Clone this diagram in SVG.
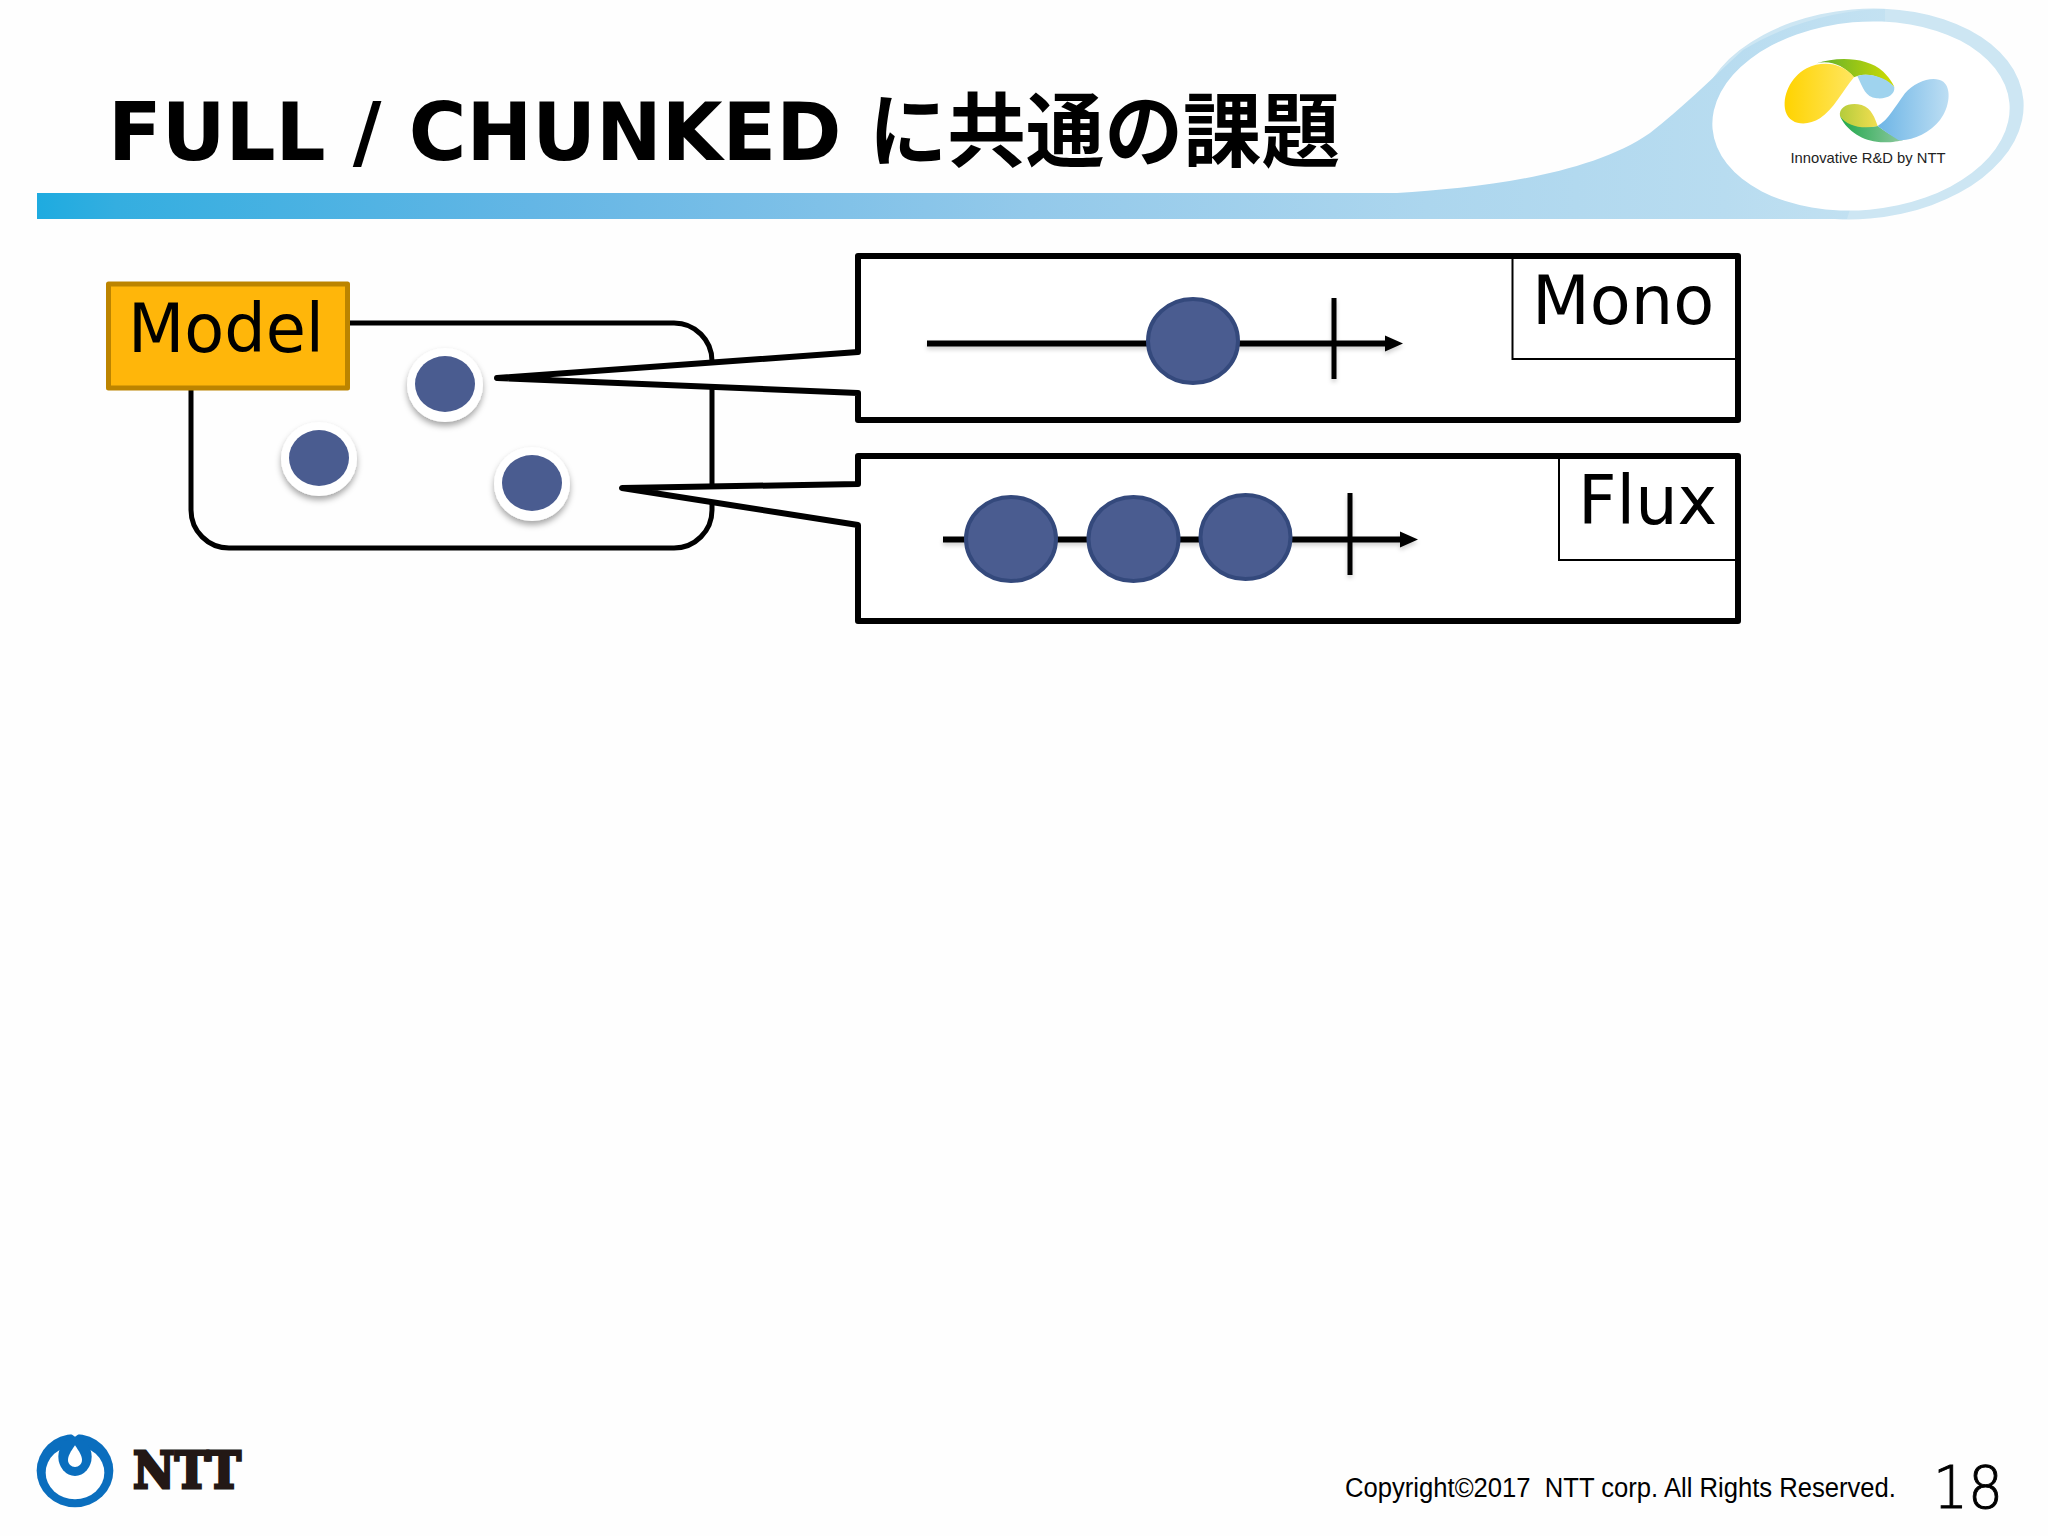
<svg xmlns="http://www.w3.org/2000/svg" width="2048" height="1536" viewBox="0 0 2048 1536">
<style>
.ln{fill:none;stroke:#000;stroke-width:5;stroke-linejoin:round}
.call{fill:#fff;stroke:#000;stroke-width:6;stroke-linejoin:round}
.lab{fill:#fff;stroke:#000;stroke-width:2}
.t{font-family:"DejaVu Sans",sans-serif;font-size:67px;fill:#000}
.ball{fill:#4A5C90;stroke:#34497C;stroke-width:4}
.dot{fill:#4A5C90}
.ring{fill:#fff;filter:url(#sh)}
.tl{stroke:#000;stroke-width:6;fill:none;marker-end:url(#arr)}
.tick{stroke:#000;stroke-width:5;fill:none}
</style>
<defs>
<marker id="arr" markerUnits="userSpaceOnUse" markerWidth="18" markerHeight="18" refX="5" refY="9" orient="auto"><path d="M0,1 L18,9 L0,17 Z" fill="#000"/></marker>
<filter id="sh" x="-30%" y="-30%" width="160%" height="170%"><feDropShadow dx="0" dy="4" stdDeviation="3" flood-color="#000" flood-opacity=".35"/></filter>
<filter id="sl" filterUnits="userSpaceOnUse" x="0" y="0" width="2048" height="1536"><feDropShadow dx="0" dy="3" stdDeviation="2" flood-color="#000" flood-opacity=".18"/></filter>
<linearGradient id="wave" gradientUnits="userSpaceOnUse" x1="37" y1="0" x2="2023" y2="0">
<stop offset="0" stop-color="#1EABE0"/><stop offset=".04" stop-color="#34AEE0"/><stop offset=".25" stop-color="#64B6E5"/><stop offset=".5" stop-color="#93C9EA"/><stop offset=".7" stop-color="#ACD6EE"/><stop offset=".85" stop-color="#B8DCF0"/><stop offset="1" stop-color="#CDE6F3"/>
</linearGradient>
<linearGradient id="gy" x1="0" x2="1" y1="0" y2="0"><stop offset="0" stop-color="#FFD300"/><stop offset="1" stop-color="#FFE660"/></linearGradient>
<linearGradient id="gg" x1="0" x2="1" y1="0" y2="0"><stop offset="0" stop-color="#5DAE2E"/><stop offset="1" stop-color="#D0DC00"/></linearGradient>
<linearGradient id="gb" x1="0" x2="1" y1="0" y2="0"><stop offset="0" stop-color="#6DB5E6"/><stop offset="1" stop-color="#BDDEF3"/></linearGradient>
<linearGradient id="gl" x1="0" x2="1" y1="0" y2="0"><stop offset="0" stop-color="#1FA84A"/><stop offset="1" stop-color="#8FC8A0"/></linearGradient>
<linearGradient id="gs" x1="0" x2="1" y1="0" y2="0"><stop offset="0" stop-color="#B4CC3C"/><stop offset="1" stop-color="#F2DE50"/></linearGradient>
</defs>
<rect width="2048" height="1536" fill="#FEFEFE"/>

<g id="banner">
<ellipse cx="1861" cy="114" rx="163" ry="105" transform="rotate(-5 1861 114)" fill="#CDE6F3"/>
<path d="M37,193 L1397,193 C1480,188 1590,175 1650,133 C1680,110 1710,80 1743,50 C1785,24 1840,9 1885,9 L1885,100 L1847,219 L37,219 Z" fill="url(#wave)"/>
<ellipse cx="1861" cy="116" rx="149" ry="94" transform="rotate(-5 1861 116)" fill="#fff"/>
</g>
<g id="logo-top">
<g transform="translate(1650 0) scale(.33333)">
<path d="M500,190 C560,170 650,170 700,215 C715,230 730,250 733,262 C705,235 660,215 622,228 L612,232 C580,195 540,180 500,190 Z" fill="url(#gg)"/>
<path d="M612,232 C580,190 520,180 470,205 C420,232 395,290 407,335 C420,375 470,380 510,355 C550,330 580,270 612,232 Z" fill="url(#gy)"/>
<path d="M622,228 C660,215 715,235 733,262 C735,285 710,298 680,295 C645,290 640,265 622,228 Z" fill="#9FD3EE"/>
<path d="M570,348 C585,385 630,420 680,425 C705,430 745,425 760,420 C730,410 705,395 683,378 C640,385 595,375 570,348 Z" fill="url(#gl)"/>
<path d="M683,378 C715,360 735,320 765,280 C795,245 850,225 880,245 C905,265 900,320 870,360 C840,400 780,425 745,420 C720,405 700,390 683,378 Z" fill="url(#gb)"/>
<path d="M570,348 C565,320 600,305 635,315 C665,325 675,355 683,378 C640,388 590,380 570,348 Z" fill="url(#gs)"/>
</g>
<text x="1790.5" y="162.5" font-family="'Liberation Sans',sans-serif" font-size="15" fill="#222" textLength="155" lengthAdjust="spacingAndGlyphs">Innovative R&amp;D by NTT</text>
</g>

<text id="title" x="108" y="160" font-family="'DejaVu Sans','Noto Sans CJK JP',sans-serif" font-weight="700" font-size="81" fill="#000" textLength="1232" lengthAdjust="spacingAndGlyphs">FULL / CHUNKED に共通の課題</text>

<g id="model-area">
<rect x="191" y="323" width="521" height="225" rx="38" ry="38" class="ln"/>
</g>
<g id="dot1"><ellipse cx="445" cy="385" rx="38" ry="37" class="ring"/><ellipse cx="445" cy="384" rx="30" ry="28" class="dot"/></g>
<g id="dot2"><ellipse cx="319" cy="459" rx="38" ry="37" class="ring"/><ellipse cx="319" cy="458" rx="30" ry="28" class="dot"/></g>
<g id="dot3"><ellipse cx="532" cy="484" rx="38" ry="37" class="ring"/><ellipse cx="532" cy="483" rx="30" ry="28" class="dot"/></g>

<g id="model-label">
<rect x="108.5" y="284" width="239" height="104" fill="#FFB60A" stroke="#BC8400" stroke-width="5" stroke-linejoin="round"/>
<text x="128" y="352" class="t" textLength="196" lengthAdjust="spacingAndGlyphs">Model</text>
</g>

<g id="mono">
<path d="M858,256 L1738,256 L1738,420 L858,420 L858,393 L497,378 L858,352 Z" class="call"/>
<rect x="1512.5" y="258" width="223.5" height="101" class="lab"/>
<text x="1532" y="324" class="t">Mono</text>
</g>

<g id="flux">
<path d="M858,456 L1738,456 L1738,621 L858,621 L858,525 L622,488 L858,484 Z" class="call"/>
<rect x="1559" y="458" width="177" height="102" class="lab"/>
<text x="1578" y="524" class="t">Flux</text>
</g>

<g id="connectors">
<g filter="url(#sl)">
<path d="M927,343.5 L1390,343.5" class="tl"/>
<path d="M1334,298 L1334,379" class="tick"/>
<path d="M943,539.5 L1405,539.5" class="tl"/>
<path d="M1350,493 L1350,575" class="tick"/>
</g>
</g>
<g id="mono-ball"><ellipse cx="1193" cy="341" rx="45" ry="42" class="ball"/></g>
<g id="flux-ball1"><ellipse cx="1011" cy="539" rx="45" ry="42" class="ball"/></g>
<g id="flux-ball2"><ellipse cx="1133.5" cy="539" rx="45" ry="42" class="ball"/></g>
<g id="flux-ball3"><ellipse cx="1245.5" cy="537" rx="45" ry="42" class="ball"/></g>

<g id="logo-ntt">
<g transform="translate(0 1420) scale(.33333)">
<ellipse cx="225" cy="152" rx="115" ry="110" fill="#0A6EBE"/>
<path d="M205,36 L225,50 L245,36 Z" fill="#FEFEFE"/>
<ellipse cx="225" cy="158" rx="88" ry="80" fill="#fff"/>
<ellipse cx="225" cy="110" rx="50" ry="58" fill="#0A6EBE"/>
<path d="M225,76 C212,95 204,108 204,120 C204,132 214,141 225,141 C236,141 246,132 246,120 C246,108 238,95 225,76 Z" fill="#fff"/>
</g>
<text x="133" y="1488" font-family="'DejaVu Serif',serif" font-weight="700" font-size="50" fill="#231815" stroke="#231815" stroke-width="3" textLength="108" lengthAdjust="spacingAndGlyphs">NTT</text>
</g>

<text id="copyright" x="1345" y="1497" font-family="'Liberation Sans',sans-serif" font-size="27" fill="#000" style="white-space:pre" textLength="551" lengthAdjust="spacingAndGlyphs">Copyright©2017  NTT corp. All Rights Reserved.</text>
<text id="page" x="1933" y="1508" font-family="'DejaVu Sans',sans-serif" font-weight="200" font-size="58" fill="#000" stroke="#000" stroke-width="1" textLength="70" lengthAdjust="spacingAndGlyphs">18</text>
</svg>
